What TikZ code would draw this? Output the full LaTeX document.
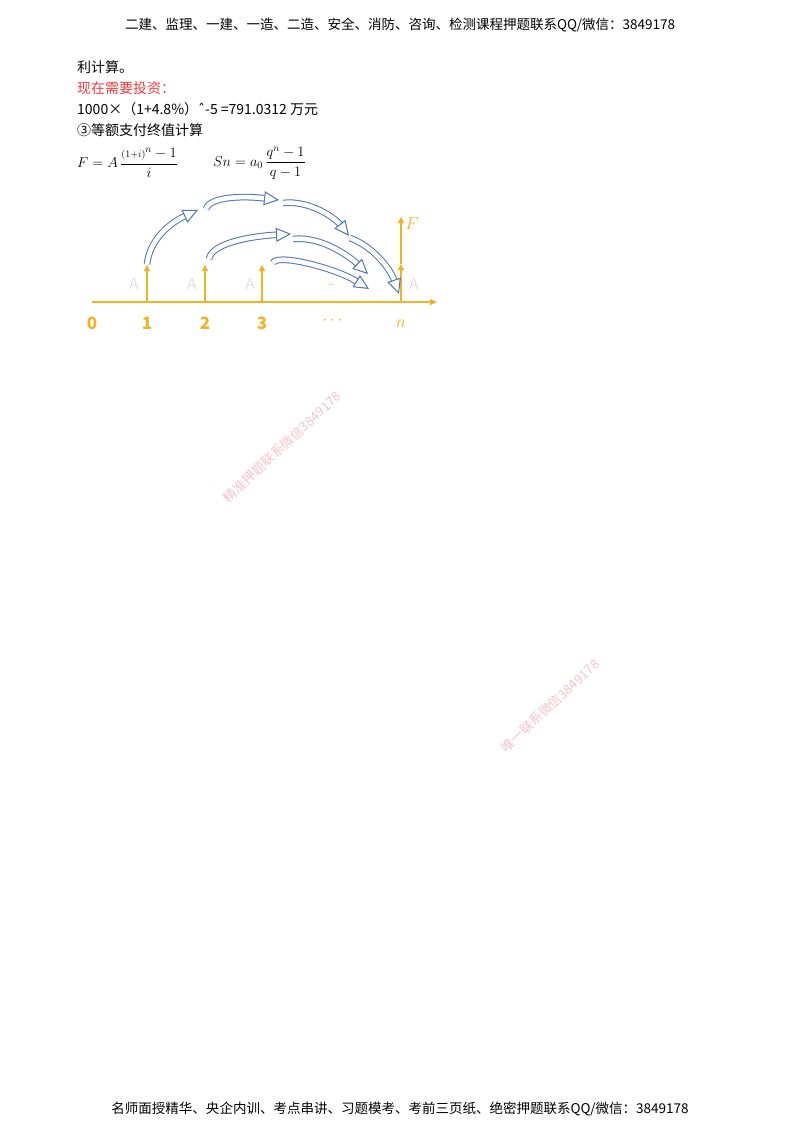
\documentclass[tikz,border=0pt]{standalone}
\usepackage{amsmath}
\usepackage{fontspec}
\setmainfont{Noto Sans CJK SC}
\newfontfamily\symfont{DejaVu Sans}
\usetikzlibrary{arrows.meta}
\definecolor{gold}{HTML}{F0B323}
\definecolor{flowblue}{HTML}{4F74B8}
\definecolor{wmpink}{HTML}{F2C4CB}
\definecolor{warnred}{HTML}{F03C3C}

\begin{document}
\begin{tikzpicture}[
    x=1pt, y=-1pt,
    head/.style={font=\fontsize{13.5}{16}\selectfont, inner sep=0pt},
    body/.style={anchor=west, font=\fontsize{14}{17}\selectfont, inner sep=0pt},
    axis/.style={draw=gold, line width=2pt, -{Triangle[length=7pt, width=6pt]}},
    tick/.style={draw=gold, line width=2pt, -{Triangle[length=6pt, width=6pt]}},
    num/.style={text=gold, font=\fontsize{17}{19}\selectfont\bfseries, inner sep=0pt},
    alab/.style={text=gray!25, font=\fontsize{15}{17}\selectfont, inner sep=0pt},
    flow/.style={draw=flowblue, double=white, double distance=4.6pt, line width=1pt,
      -{Triangle[open, length=15pt, width=14pt]}},
    wmark/.style={text=wmpink, rotate=43, font=\fontsize{13}{15}\selectfont, inner sep=0pt}
  ]
    \useasboundingbox[fill=white] (0,0) rectangle (800,1132);
    % header and footer
    \node[head] (top) at (400,25) {二建、监理、一建、一造、二造、安全、消防、咨询、检测课程押题联系QQ/微信：3849178};
    \node[head] (bottom) at (400,1109) {名师面授精华、央企内训、考点串讲、习题模考、考前三页纸、绝密押题联系QQ/微信：3849178};
    % text lines
    \node[body] (l1) at (77,67) {利计算。};
    \node[body, text=warnred] (l2) at (77,88) {现在需要投资：};
    \node[body] (l3) at (77,109) {1000×（1+4.8\%）{\symfont ˆ}-5 =791.0312 万元};
    \node[body] (l4) at (77,130) {③等额支付终值计算};
    \node[body] (fa) at (77,163) {$F=A\,\dfrac{{\scriptstyle(1+i)}^{n}-1}{i}$};
    \node[body] (fs) at (213,163) {$Sn=a_0\,\dfrac{q^{n}-1}{q-1}$};
    % time axis
    \coordinate (ax0) at (92,302);
    \coordinate (ax1) at (437,302);
    \draw[axis] (ax0) -- (ax1);
    \coordinate (p1) at (147,302);
    \coordinate (p2) at (205,302);
    \coordinate (p3) at (262,302);
    \coordinate (pn) at (401,302);
    \coordinate (q1) at (147,265);
    \coordinate (q2) at (205,265);
    \coordinate (q3) at (262,265);
    \coordinate (qn) at (401,264);
    \coordinate (fn) at (401,217);
    \draw[tick] (p1) -- (q1);
    \draw[tick] (p2) -- (q2);
    \draw[tick] (p3) -- (q3);
    \draw[tick] (pn) -- (qn);
    \draw[tick] (qn) -- (fn);
    \node[num] (n0) at (92,323) {0};
    \node[num] (n1) at (147,323) {1};
    \node[num] (n2) at (205,323) {2};
    \node[num] (n3) at (262,323) {3};
    \node[num] (ndots) at (334,321) {$\cdots$};
    \node[num] (nn) at (401,324) {$n$};
    \node[num] (lf) at (412,224) {$F$};
    \node[alab] (a1) at (134,284) {A};
    \node[alab] (a2) at (192,284) {A};
    \node[alab] (a3) at (250,284) {A};
    \node[alab] (an) at (414,284) {A};
    \node[text=gold, font=\fontsize{10}{12}\selectfont, inner sep=0pt] (sdots) at (331,285) {..};
    % compounding arrows
    \coordinate (s1) at (147,264);
    \coordinate (e1) at (198,210);
    \coordinate (s2) at (206,209);
    \coordinate (e2) at (279,200);
    \coordinate (s3) at (283,203);
    \coordinate (e3) at (349,236);
    \coordinate (s4) at (350,238);
    \coordinate (e4) at (399,294);
    \coordinate (s5) at (209,259);
    \coordinate (e5) at (291,234);
    \coordinate (s6) at (293,239);
    \coordinate (e6) at (368,274);
    \coordinate (s7) at (273,263);
    \coordinate (e7) at (369,289);
    \draw[flow] (s1) .. controls (150,238) and (172,222) .. (e1);
    \draw[flow] (s2) .. controls (210,196) and (245,196) .. (e2);
    \draw[flow] (s3) .. controls (310,200) and (335,218) .. (e3);
    \draw[flow] (s4) .. controls (372,246) and (390,268) .. (e4);
    \draw[flow] (s5) .. controls (212,242) and (255,236) .. (e5);
    \draw[flow] (s6) .. controls (320,236) and (348,255) .. (e6);
    \draw[flow] (s7) .. controls (276,253) and (335,268) .. (e7);
    % watermarks
    \node[wmark] (wm1) at (282,447) {精准押题联系微信3849178};
    \node[wmark] (wm2) at (550,706) {唯一联系微信3849178};
  \end{tikzpicture}
\end{document}
